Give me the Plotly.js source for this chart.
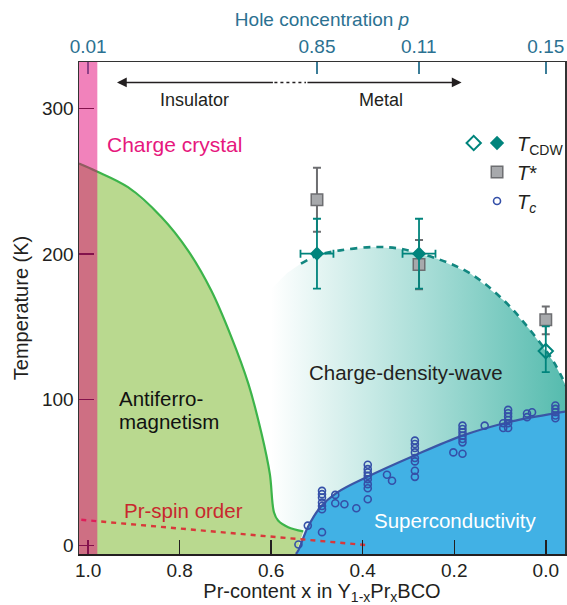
<!DOCTYPE html>
<html><head><meta charset="utf-8">
<script src="https://cdn.plot.ly/plotly-3.0.1.min.js"></script>
<style>html,body{margin:0;padding:0;background:#fff}#chart{width:567px;height:605px}</style>
</head><body><div id="chart"></div>
<script>
// ---------- data ----------
const xTickVals = [1.0, 0.8, 0.6, 0.4, 0.2, 0.0];
const xTickText = ['1.0', '0.8', '0.6', '0.4', '0.2', '0.0'];
const yTickVals = [0, 100, 200, 300];
const holeTickPos = [1.0, 0.5, 0.2775, 0.0];
const holeTickText = ['0.01', '0.85', '0.11', '0.15'];

// charge-crystal band (Pr-content range)
const crystalX = [0.98, 1.02];

// antiferromagnetic boundary
const afX = [1.02, 0.982, 0.913, 0.84, 0.782, 0.731, 0.687, 0.650, 0.621, 0.603, 0.594, 0.585, 0.563, 0.530];
const afT = [262.3, 257, 246, 225.5, 202.6, 175, 143, 111, 76.6, 49, 22.7, 17, 12.4, 9.5];

// superconducting dome boundary
const scX = [0.546, 0.541, 0.519, 0.493, 0.457, 0.39, 0.288, 0.182, 0.082, -0.021, -0.046];
const scT = [-6, -3.6, 13, 26, 36, 47, 61.5, 75.3, 84.5, 90.7, 92];

// charge-density-wave dome (dashed part)
const cdwX = [0.535, 0.50, 0.449, 0.376, 0.318, 0.237, 0.164, 0.091, 0.033, -0.018, -0.046];
const cdwT = [193.5, 199, 202.6, 204.9, 203.7, 196.8, 186.5, 168, 147.4, 125.6, 108.3];
// faint left extension of the CDW shading
const cdwExtX = [0.64, 0.6, 0.565];
const cdwExtT = [160, 176, 187];

// Pr-spin order line
const prX = [1.015, 0.387];
const prT = [17.5, 0];

// Tc points
const tcX = [0.5405, 0.52, 0.489,
  0.489, 0.489, 0.489, 0.489, 0.489, 0.489,
  0.46, 0.46, 0.44, 0.414,
  0.389, 0.389, 0.389, 0.389, 0.389, 0.389, 0.389, 0.389,
  0.347, 0.336,
  0.286, 0.286, 0.286, 0.286, 0.286, 0.286, 0.286, 0.286,
  0.202, 0.182,
  0.182, 0.182, 0.182, 0.182, 0.182, 0.182,
  0.1335, 0.093, 0.093,
  0.0823, 0.0823, 0.0823, 0.0823, 0.0823, 0.0823,
  0.041, 0.041, 0.030,
  -0.021, -0.021, -0.021, -0.021, -0.021];
const tcT = [0.5, 13.5, 9,
  37.4, 35.1, 32.8, 29.3, 27, 24.7,
  34.6, 28.9, 28.2, 25.4,
  55.3, 52.3, 50, 47.7, 45.4, 42, 39.2, 31.6,
  48.4, 44.3,
  71.9, 69.6, 66.8, 63.8, 59.9, 57.6, 51.2, 47,
  63.8, 62.9,
  82.2, 79.9, 77.6, 75.3, 73, 70.7,
  82.2, 83.8, 80.6,
  93, 90.7, 88.4, 86.1, 83.8, 80.6,
  88, 90.5, 91.4,
  96, 93.7, 91.4, 89.1, 87.3];

// T* (pseudogap) points
const tStarX = [0.5, 0.277, 0.0];
const tStarT = [237.4, 192.8, 155];
const tStarErrPlus = [22, 17, 9];
const tStarErrMinus = [22, 17, 10];

// T_CDW filled points
const tcdwX = [0.5, 0.277];
const tcdwT = [200.3, 200.3];
const tcdwErrT = [24, 24];
const tcdwErrX = [0.036, 0.036];

// T_CDW open point
const tcdwOpenX = [0.0];
const tcdwOpenT = [133.4];
const tcdwOpenErrPlus = [17];
const tcdwOpenErrMinus = [14.5];

// ---------- styling ----------
const FONT = 'Liberation Sans, Arial, Helvetica, sans-serif';
const TEAL = '#00847c';
const T_FLOOR = -6;
const X_RIGHT = -0.046;

const traces = [];
// CDW shading
traces.push({
  x: cdwExtX.concat(cdwX, [X_RIGHT, cdwExtX[0]]),
  y: cdwExtT.concat(cdwT, [T_FLOOR, T_FLOOR]),
  mode: 'lines', line: {width: 0}, fill: 'toself', fillcolor: '#a6dcd6',
  fillgradient: {type: 'horizontal', start: X_RIGHT, stop: 0.6,
    colorscale: [[0, '#55bbae'], [0.5, '#acdfd9'], [1, '#ffffff']]},
  hoverinfo: 'skip', showlegend: false
});
// AF region
traces.push({
  x: afX.concat([scX[0], afX[0]]), y: afT.concat([T_FLOOR, T_FLOOR]),
  mode: 'lines', line: {width: 0}, fill: 'toself', fillcolor: '#b9d98f',
  hoverinfo: 'skip', showlegend: false
});
// SC region
traces.push({
  x: scX.concat([X_RIGHT]), y: scT.concat([T_FLOOR]),
  mode: 'lines', line: {width: 0}, fill: 'toself', fillcolor: '#41b1e5',
  hoverinfo: 'skip', showlegend: false
});
// AF line
traces.push({x: afX, y: afT, mode: 'lines', line: {color: '#3cb44a', width: 2.2, shape: 'spline'}, hoverinfo: 'skip', showlegend: false});
// SC line
traces.push({x: scX, y: scT, mode: 'lines', line: {color: '#3a56a6', width: 2.2, shape: 'spline'}, hoverinfo: 'skip', showlegend: false});
// CDW dashed
traces.push({x: cdwX, y: cdwT, mode: 'lines', line: {color: '#128780', width: 2.6, dash: '7px,6px', shape: 'spline'}, hoverinfo: 'skip', showlegend: false});
// Pr-spin order
traces.push({x: prX, y: prT, mode: 'lines', line: {color: '#d9383a', width: 2.4, dash: '5px,5px'}, hoverinfo: 'skip', showlegend: false});
// Tc
traces.push({
  x: tcX, y: tcT, mode: 'markers', name: '<i>T<sub>c</sub></i>', legend: 'legend2', legendrank: 3, legendgroup: 'c',
  marker: {symbol: 'circle-open', size: 7, color: '#3550a8', line: {width: 1.6}}
});
// T*
traces.push({
  x: tStarX, y: tStarT, mode: 'markers', name: '<i>T</i>*', legend: 'legend2', legendrank: 2, legendgroup: 'b',
  marker: {symbol: 'square', size: 11.5, color: '#a7a9ac', line: {color: '#6d6e71', width: 1.5}},
  error_y: {type: 'data', array: tStarErrPlus, arrayminus: tStarErrMinus, color: '#6d6e71', thickness: 2, width: 4}
});
// T_CDW filled
traces.push({
  x: tcdwX, y: tcdwT, mode: 'markers', name: '<i>T</i><sub>CDW</sub>', legend: 'legend2', legendrank: 1, legendgroup: 'a',
  marker: {symbol: 'diamond', size: 11, color: TEAL},
  error_y: {type: 'data', array: tcdwErrT, color: TEAL, thickness: 1.8, width: 4},
  error_x: {type: 'data', array: tcdwErrX, color: TEAL, thickness: 1.8, width: 4}
});
// T_CDW open
traces.push({
  x: tcdwOpenX, y: tcdwOpenT, mode: 'markers', name: ' ', legend: 'legend',
  marker: {symbol: 'diamond-open', size: 11, color: TEAL, line: {width: 2}},
  error_y: {type: 'data', array: tcdwOpenErrPlus, arrayminus: tcdwOpenErrMinus, color: TEAL, thickness: 1.8, width: 4}
});
// empty trace that activates the top (hole-concentration) axis
traces.push({x: [], y: [], xaxis: 'x2', yaxis: 'y', mode: 'markers', showlegend: false, hoverinfo: 'skip'});

const layout = {
  width: 567, height: 605,
  margin: {l: 79, r: 2, t: 62, b: 51, autoexpand: false},
  paper_bgcolor: '#ffffff', plot_bgcolor: '#ffffff',
  font: {family: FONT, size: 19, color: '#231f20'},
  xaxis: {
    range: [1.02, -0.042], tickvals: xTickVals, ticktext: xTickText,
    ticks: 'inside', ticklen: 14, tickwidth: 1.5, tickcolor: '#231f20',
    showline: true, linecolor: '#231f20', linewidth: 1.8, showgrid: false, zeroline: false,
    tickfont: {size: 19}, ticklabelstandoff: -2, automargin: false,
    title: {text: 'Pr-content x in Y<sub>1-x</sub>Pr<sub>x</sub>BCO', font: {size: 20}, standoff: 2}
  },
  xaxis2: {
    overlaying: 'x', side: 'top', anchor: 'y', range: [1.02, -0.042],
    tickvals: holeTickPos, ticktext: holeTickText,
    ticks: 'inside', ticklen: 12, tickwidth: 1.5, tickcolor: '#3b7d98',
    showline: true, linecolor: '#333333', linewidth: 1.5, showgrid: false, zeroline: false,
    tickfont: {size: 19, color: '#2b7191'}, automargin: false,
    title: {text: 'Hole concentration <i>p</i>', font: {size: 19, color: '#2b7191'}, standoff: 4}
  },
  yaxis: {
    range: [-6, 332], tickvals: yTickVals,
    ticks: 'inside', ticklen: 15, tickwidth: 1.5, tickcolor: '#231f20',
    showline: true, mirror: true, linecolor: '#333333', linewidth: 1.5, showgrid: false, zeroline: false,
    tickfont: {size: 19}, automargin: false,
    title: {text: 'Temperature (K)', font: {size: 20}, standoff: 8}
  },
  showlegend: true,
  legend: {x: 0.771, y: 0.875, xanchor: 'left', yanchor: 'top', bgcolor: 'rgba(0,0,0,0)',
    font: {size: 20}, itemclick: false, itemdoubleclick: false},
  legend2: {x: 0.819, y: 0.875, xanchor: 'left', yanchor: 'top', bgcolor: 'rgba(0,0,0,0)',
    font: {size: 20}, tracegroupgap: 0, itemclick: false, itemdoubleclick: false},
  shapes: [
    {type: 'rect', xref: 'x', yref: 'paper', x0: crystalX[0], x1: crystalX[1], y0: 0, y1: 1,
     fillcolor: 'rgba(228,5,120,0.5)', line: {width: 0}, layer: 'above'},
    {type: 'line', xref: 'x', yref: 'y', x0: 0.593, x1: 0.524, y0: 318, y1: 318,
     line: {color: '#231f20', width: 1.5, dash: 'dot'}}
  ],
  annotations: [
    {x: 0.937, y: 318, ax: 0.593, ay: 318, axref: 'x', ayref: 'y', xref: 'x', yref: 'y', text: '',
     showarrow: true, arrowhead: 2, arrowsize: 1.3, arrowwidth: 1.5, arrowcolor: '#231f20'},
    {x: 0.184, y: 318, ax: 0.524, ay: 318, axref: 'x', ayref: 'y', xref: 'x', yref: 'y', text: '',
     showarrow: true, arrowhead: 2, arrowsize: 1.3, arrowwidth: 1.5, arrowcolor: '#231f20'},
    {x: 0.768, y: 306, text: 'Insulator', showarrow: false, font: {size: 18, color: '#231f20'}},
    {x: 0.3606, y: 306, text: 'Metal', showarrow: false, font: {size: 18, color: '#231f20'}},
    {x: 0.963, y: 275.5, xanchor: 'left', text: 'Charge crystal', showarrow: false, font: {size: 21, color: '#e6177d'}},
    {x: 0.936, y: 100.9, xanchor: 'left', text: 'Antiferro-', showarrow: false, font: {size: 20.5, color: '#111111'}},
    {x: 0.936, y: 85.3, xanchor: 'left', text: 'magnetism', showarrow: false, font: {size: 20.5, color: '#111111'}},
    {x: 0.792, y: 23.9, text: 'Pr-spin order', showarrow: false, font: {size: 20.5, color: '#c8282e'}},
    {x: 0.306, y: 118.8, text: 'Charge-density-wave', showarrow: false, font: {size: 20.5, color: '#231f20'}},
    {x: 0.197, y: 16.7, text: 'Superconductivity', showarrow: false, font: {size: 20.5, color: '#ffffff'}}
  ]
};

Plotly.newPlot('chart', traces, layout, {displayModeBar: false, staticPlot: true});
</script>
</body></html>
